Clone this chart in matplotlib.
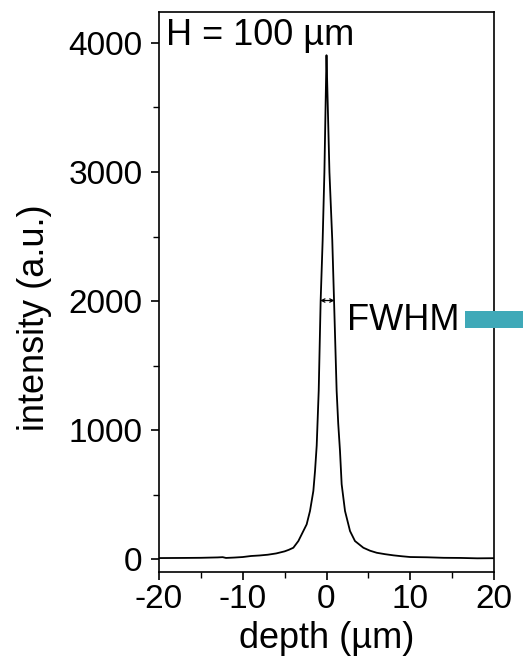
import matplotlib
matplotlib.use("Agg")
import matplotlib.pyplot as plt
from matplotlib.patches import Rectangle

plt.rcParams['font.family'] = ['Liberation Sans', 'DejaVu Sans']

depth = [-20, -17, -15, -13, -12.4, -12, -11, -10, -9, -8, -7, -6, -5, -4.5, -3.96, -3.36,
         -2.77, -2.37, -1.97, -1.57, -1.37, -1.17, -0.93, -0.7, -0.46, -0.25, -0.1, 0.0,
         0.1, 0.35, 0.69, 0.9, 1.21, 1.4, 1.61, 1.81, 2.21, 2.81, 3.4, 4.4, 5.2, 6, 7, 8,
         9, 10, 12, 14, 16, 18, 20]
intensity = [8, 9, 10, 13, 15, 9, 12, 16, 24, 28, 34, 44, 60, 72, 88, 140,
             217, 269, 373, 528, 683, 880, 1305, 2000, 2470, 3000, 3550, 3905,
             3650, 3000, 2470, 2004, 1305, 1050, 839, 580, 373, 217, 140, 88, 65, 49, 38, 29,
             22, 16, 14, 10, 9, 6, 7]

xticks = [-20, -10, 0, 10, 20]
yticks = [0, 1000, 2000, 3000, 4000]

fig = plt.figure(figsize=(5.23, 6.57), dpi=100)
ax = fig.add_axes([159/523, 1-572/657, (494-159)/523, (572-12)/657])
ax.plot(depth, intensity, color='black', lw=1.3)
ax.set_xlim(-20, 20)
ax.set_ylim(-100, 4240)
ax.set_xticks(xticks)
ax.set_xticklabels([str(t) for t in xticks])
ax.set_yticks(yticks)
ax.set_xticks([-15, -5, 5, 15], minor=True)
ax.set_yticks([500, 1500, 2500, 3500], minor=True)
ax.tick_params(which='major', direction='out', length=6, width=1.2, labelsize=24)
ax.tick_params(axis='x', which='major', pad=3)
ax.tick_params(axis='y', which='major', pad=6)
ax.tick_params(which='minor', direction='out', length=4, width=1.0)
for s in ax.spines.values():
    s.set_linewidth(1.2)
ax.set_xlabel('depth (µm)', fontsize=26)
ax.xaxis.set_label_coords(0.5, -0.088)
ax.set_ylabel('intensity (a.u.)', fontsize=26)
ax.yaxis.set_label_coords(-0.319, 0.455)

ax.text(0.02, 0.99, 'H = 100 µm', transform=ax.transAxes, fontsize=26,
        ha='left', va='top')
ax.annotate('', xy=(-0.75, 2004), xytext=(0.95, 2004),
            arrowprops=dict(arrowstyle='<->', lw=0.9, color='black',
                            mutation_scale=6, shrinkA=0, shrinkB=0))
ax.text(2.4, 1850, 'FWHM', fontsize=26, ha='left', va='center')
rect = Rectangle((465/523, 1-328/657), (523-465)/523, 17/657, transform=fig.transFigure,
                 facecolor='#3FA9B8', edgecolor='none', zorder=1)
fig.patches.append(rect)

fig.savefig('out.png', dpi=100)
